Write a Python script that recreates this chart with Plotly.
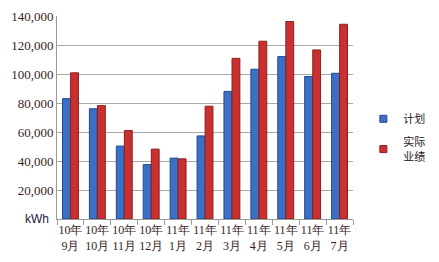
import plotly.graph_objects as go

categories = ["10年<br>9月", "10年<br>10月", "10年<br>11月", "10年<br>12月", "11年<br>1月",
              "11年<br>2月", "11年<br>3月", "11年<br>4月", "11年<br>5月", "11年<br>6月", "11年<br>7月"]
plan = [83000, 76000, 50300, 37500, 42000, 57300, 88000, 103300, 112000, 98300, 100500]
actual = [100800, 78200, 61000, 48200, 41500, 77800, 110800, 122600, 136200, 116600, 134300]
series_names = ["计划", "实际<br>业绩"]
ytick_vals = [20000, 40000, 60000, 80000, 100000, 120000, 140000]
ytick_text = ["20,000", "40,000", "60,000", "80,000", "100,000", "120,000", "140,000"]

blue, blue_edge = "#3b70c6", "#1f4a91"
red, red_edge = "#c8312f", "#8e1e1c"
serif = "Liberation Serif"

fig = go.Figure()
fig.add_trace(go.Bar(x=categories, y=plan, name=series_names[0], showlegend=False,
                     marker=dict(color=blue, line=dict(color=blue_edge, width=1))))
fig.add_trace(go.Bar(x=categories, y=actual, name=series_names[1], showlegend=False,
                     marker=dict(color=red, line=dict(color=red_edge, width=1))))
# legend entries with small square markers
fig.add_trace(go.Scatter(x=[None], y=[None], mode="markers", name=series_names[0],
                         legendgroup="a",
                         marker=dict(symbol="square", size=7, color=blue,
                                     line=dict(color=blue_edge, width=1))))
fig.add_trace(go.Scatter(x=[None], y=[None], mode="markers", name=series_names[1],
                         legendgroup="b",
                         marker=dict(symbol="square", size=7, color=red,
                                     line=dict(color=red_edge, width=1))))

fig.update_layout(
    width=439, height=262,
    margin=dict(l=57, r=58, t=9, b=42),
    paper_bgcolor="white", plot_bgcolor="white",
    barmode="group", bargap=0.4, bargroupgap=0.03,
    showlegend=True,
    legend=dict(x=1.035, y=0.565, xanchor="left", yanchor="top",
                font=dict(family="Noto Sans CJK SC", size=11, color="#1a1a1a"),
                itemwidth=30, tracegroupgap=5, traceorder="grouped",
                bgcolor="rgba(0,0,0,0)"),
    xaxis=dict(type="category", showline=True, linecolor="#9a9a9a", linewidth=1,
               ticks="outside", tickson="boundaries", ticklen=5, tickcolor="#9a9a9a",
               tickangle=0,
               tickfont=dict(family=serif, size=12, color="#3a1c1c"),
               showgrid=False),
    yaxis=dict(range=[0, 140000], tickvals=ytick_vals, ticktext=ytick_text,
               showline=True, linecolor="#9a9a9a", linewidth=1,
               showgrid=True, gridcolor="#a8a8a8", gridwidth=1,
               zeroline=False,
               tickfont=dict(family=serif, size=13, color="#3a1c1c")),
    annotations=[dict(text="kWh", x=0, y=0, xref="paper", yref="y", xanchor="right",
                      yanchor="middle", xshift=-6, showarrow=False,
                      font=dict(family="Liberation Sans", size=12, color="#1a2040"))],
)

fig.write_html("out.html")
